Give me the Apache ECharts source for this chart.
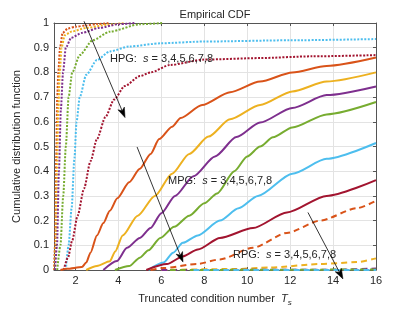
<!DOCTYPE html>
<html><head><meta charset="utf-8">
<script src="https://cdn.jsdelivr.net/npm/echarts@6/dist/echarts.min.js"></script>
<style>html,body{margin:0;padding:0;background:#fff}#c{width:415px;height:312px}</style>
</head><body><div id="c"></div>
<script>
// Tick values
const xTicks = [2, 4, 6, 8, 10, 12, 14, 16];
const seriesLabels = ['s=3', 's=4', 's=5', 's=6', 's=7', 's=8'];
const colors = ['#D95319', '#EDB120', '#7E2F8E', '#77AC30', '#4DBEEE', '#A2142F'];

// HPG (dotted)
const hpg3 = [[1.0,0],[1.05,0.1],[1.1,0.45],[1.15,0.7],[1.2,0.8],[1.28,0.9],[1.4,0.96],[1.65,0.978],[2,0.985],[2.5,0.99],[3,0.996],[3.6,1]];
const hpg4 = [[1.02,0],[1.08,0.1],[1.14,0.4],[1.2,0.65],[1.27,0.8],[1.35,0.9],[1.5,0.95],[1.8,0.965],[2.5,0.98],[3.5,0.993],[4.3,1]];
const hpg5 = [[1.05,0],[1.14,0.1],[1.23,0.4],[1.32,0.65],[1.42,0.8],[1.55,0.9],[1.8,0.94],[2.3,0.96],[3.1,0.98],[4,0.995],[4.8,1]];
const hpg6 = [[1.15,0],[1.3,0.1],[1.43,0.3],[1.55,0.5],[1.68,0.7],[1.85,0.8],[2.2,0.87],[2.8,0.93],[3.6,0.965],[5,0.995],[6.1,1]];
const hpg7 = [[1.55,0],[1.68,0.1],[1.82,0.25],[1.95,0.45],[2.05,0.6],[2.2,0.7],[2.5,0.79],[3,0.85],[3.6,0.885],[4.5,0.905],[6,0.918],[8,0.925],[12,0.93],[16,0.935]];
const hpg8 = [[1.45,0],[1.65,0.05],[1.85,0.12],[2.1,0.22],[2.4,0.33],[2.7,0.44],[3.0,0.53],[3.4,0.62],[3.8,0.69],[4.3,0.745],[5.0,0.785],[5.5,0.80],[6.4,0.83],[8,0.852],[10.6,0.858],[13,0.865],[16,0.87]];

// MPG (solid)
const mpg3 = [[1.3,0],[1.6,0.005],[2.3,0.012],[2.5,0.03],[2.7,0.07],[3.0,0.14],[3.3,0.19],[3.6,0.24],[3.95,0.29],[4.5,0.355],[5.0,0.41],[5.5,0.47],[5.9,0.53],[6.5,0.58],[6.9,0.615],[7.9,0.668],[9.2,0.72],[10.6,0.763],[12.1,0.80],[13.7,0.826],[16,0.86]];
const mpg4 = [[2.5,0],[3.0,0.016],[3.6,0.035],[3.85,0.075],[4.2,0.14],[4.9,0.22],[5.7,0.30],[6.5,0.39],[7.3,0.47],[8.2,0.54],[9.2,0.61],[10.6,0.668],[12.1,0.723],[13.7,0.763],[16,0.80]];
const mpg5 = [[3.3,0],[3.93,0.036],[4.4,0.09],[5.0,0.13],[5.5,0.17],[6.0,0.23],[6.64,0.30],[7.5,0.38],[8.5,0.46],[9.5,0.538],[10.6,0.597],[12.1,0.656],[13.7,0.708],[16,0.743]];
const mpg6 = [[3.84,0],[4.5,0.016],[5.0,0.05],[5.4,0.08],[5.95,0.13],[6.6,0.175],[7.3,0.22],[8.0,0.27],[8.6,0.31],[9.4,0.40],[10.0,0.46],[10.6,0.50],[11.2,0.537],[12.1,0.577],[13.7,0.63],[16,0.68]];
const mpg7 = [[5.4,0],[6.1,0.03],[6.55,0.07],[7.0,0.11],[7.7,0.14],[8.73,0.20],[9.6,0.25],[10.5,0.30],[12.1,0.39],[13.7,0.45],[16,0.514]];
const mpg8 = [[5.3,0],[6.26,0.024],[7.0,0.055],[7.7,0.083],[8.73,0.13],[10.27,0.17],[11.85,0.233],[13.7,0.30],[16,0.364]];

// RPG (dashed); s=8 has no samples below 16
const rpg3 = [[5.5,0],[6.1,0.008],[7.66,0.024],[8.73,0.043],[10.27,0.09],[11.85,0.15],[13.4,0.20],[15.1,0.25],[16,0.28]];
const rpg4 = [[6,0],[9.5,0.004],[11.06,0.01],[13.4,0.024],[15.1,0.032],[16,0.047]];
const rpg5 = [[6,0],[14,0.001],[16,0.006]];
const rpg6 = [[6.4,0],[16,0.002]];
const rpg7 = [[7.5,0],[16,0]];
const rpg8 = [];

// Annotation anchors (data coordinates)
const arrows = [
  [[2.40, 1.007], [4.31, 0.617]],
  [[4.87, 0.498], [7.01, 0.032]],
  [[12.83, 0.233], [14.46, -0.036]]
];
const notes = [
  {name: 'HPG', at: [3.61, 0.854]},
  {name: 'MPG', at: [6.31, 0.36]},
  {name: 'RPG', at: [9.34, 0.059]}
];

const FONT = '"Liberation Sans", Arial, sans-serif';
const TXT = '#262626';

const groups = [
  {data: [hpg3, hpg4, hpg5, hpg6, hpg7, hpg8], type: [2, 1.5]},
  {data: [mpg3, mpg4, mpg5, mpg6, mpg7, mpg8], type: 'solid'},
  {data: [rpg3, rpg4, rpg5, rpg6, rpg7, rpg8], type: [6, 4]}
];
const series = [];
groups.forEach(g => {
  g.data.forEach((d, i) => {
    series.push({
      type: 'line', name: seriesLabels[i], data: d, showSymbol: false, symbol: 'none',
      smooth: 0.25, smoothMonotone: 'x',
      lineStyle: {color: colors[i], width: 2, type: g.type},
      silent: true, animation: false, clip: true
    });
  });
});
series.push({
  type: 'line', data: [], silent: true, animation: false,
  markPoint: {
    silent: true, animation: false, symbol: 'circle', symbolSize: 0,
    label: {
      show: true, position: 'right', distance: 0,
      fontFamily: FONT, fontSize: 11, color: TXT,
      rich: {
        a: {fontFamily: FONT, fontSize: 11, color: TXT},
        i: {fontFamily: FONT, fontSize: 11, color: TXT, fontStyle: 'italic'}
      },
      formatter: p => '{a|' + p.name + ':  }{i|s}{a| = 3,4,5,6,7,8}'
    },
    data: notes.map(n => ({name: n.name, coord: n.at}))
  }
});

const axisLineStyle = {color: '#555', width: 1};
const gridLine = {show: true, lineStyle: {color: '#e3e3e3', width: 1}};

const option = {
  animation: false,
  title: {
    text: 'Empirical CDF', left: 215, top: 9, textAlign: 'center', padding: 0,
    textStyle: {fontFamily: FONT, fontSize: 11, fontWeight: 'normal', color: TXT}
  },
  grid: {left: 54, right: 39, top: 23, bottom: 36, containLabel: false},
  xAxis: [{
    type: 'value', min: 1, max: 16, position: 'bottom',
    axisLine: {show: true, onZero: false, lineStyle: axisLineStyle},
    axisTick: {show: true, inside: true, length: 3, customValues: xTicks, lineStyle: axisLineStyle},
    axisLabel: {customValues: xTicks, margin: 5, fontFamily: FONT, fontSize: 11, color: TXT},
    splitLine: gridLine,
    name: '{a|Truncated condition number  }{t|T}{s|s}',
    nameLocation: 'middle', nameGap: 20,
    nameTextStyle: {
      fontFamily: FONT, fontSize: 11, color: TXT,
      rich: {
        a: {fontFamily: FONT, fontSize: 11, color: TXT},
        t: {fontFamily: FONT, fontSize: 11, color: TXT, fontStyle: 'italic'},
        s: {fontFamily: FONT, fontSize: 8, color: TXT, fontStyle: 'italic', padding: [9, 0, 0, 0]}
      }
    }
  }, {
    type: 'value', min: 1, max: 16, position: 'top',
    axisLine: {show: true, onZero: false, lineStyle: axisLineStyle},
    axisTick: {show: true, inside: true, length: 3, customValues: xTicks, lineStyle: axisLineStyle},
    axisLabel: {show: false},
    splitLine: {show: false}
  }],
  yAxis: [{
    type: 'value', min: 0, max: 1, interval: 0.1, position: 'left',
    axisLine: {show: true, onZero: false, lineStyle: axisLineStyle},
    axisTick: {show: true, inside: true, length: 3, lineStyle: axisLineStyle},
    axisLabel: {margin: 5, fontFamily: FONT, fontSize: 11, color: TXT},
    splitLine: gridLine,
    name: 'Cumulative distribution function', nameLocation: 'middle', nameGap: 21,
    nameTextStyle: {fontFamily: FONT, fontSize: 11, color: TXT}
  }, {
    type: 'value', min: 0, max: 1, interval: 0.1, position: 'right',
    axisLine: {show: true, onZero: false, lineStyle: axisLineStyle},
    axisTick: {show: true, inside: true, length: 3, lineStyle: axisLineStyle},
    axisLabel: {show: false},
    splitLine: {show: false}
  }],
  series: series
};
const chart = echarts.init(document.getElementById('c'), null, {renderer: 'canvas'});
chart.setOption(option);

// Arrow annotations, positioned from data coordinates
const graphics = [];
arrows.forEach(a => {
  const p0 = chart.convertToPixel({gridIndex: 0}, a[0]);
  const p1 = chart.convertToPixel({gridIndex: 0}, a[1]);
  const dx = p1[0] - p0[0], dy = p1[1] - p0[1];
  const len = Math.sqrt(dx * dx + dy * dy);
  const ux = dx / len, uy = dy / len, nx = -uy, ny = ux;
  const L = 10, W = 7;
  const back = [p1[0] - ux * L, p1[1] - uy * L];
  graphics.push({
    type: 'line', silent: true, z: 100,
    shape: {x1: p0[0], y1: p0[1], x2: back[0] + ux * 3, y2: back[1] + uy * 3},
    style: {stroke: '#000', lineWidth: 0.8}
  });
  graphics.push({
    type: 'polygon', silent: true, z: 100,
    shape: {points: [
      [p1[0], p1[1]],
      [back[0] + nx * W / 2, back[1] + ny * W / 2],
      [p1[0] - ux * L * 0.75, p1[1] - uy * L * 0.75],
      [back[0] - nx * W / 2, back[1] - ny * W / 2]
    ]},
    style: {fill: '#000', stroke: '#000', lineWidth: 0.5}
  });
});
chart.setOption({graphic: graphics});
</script>
</body></html>
